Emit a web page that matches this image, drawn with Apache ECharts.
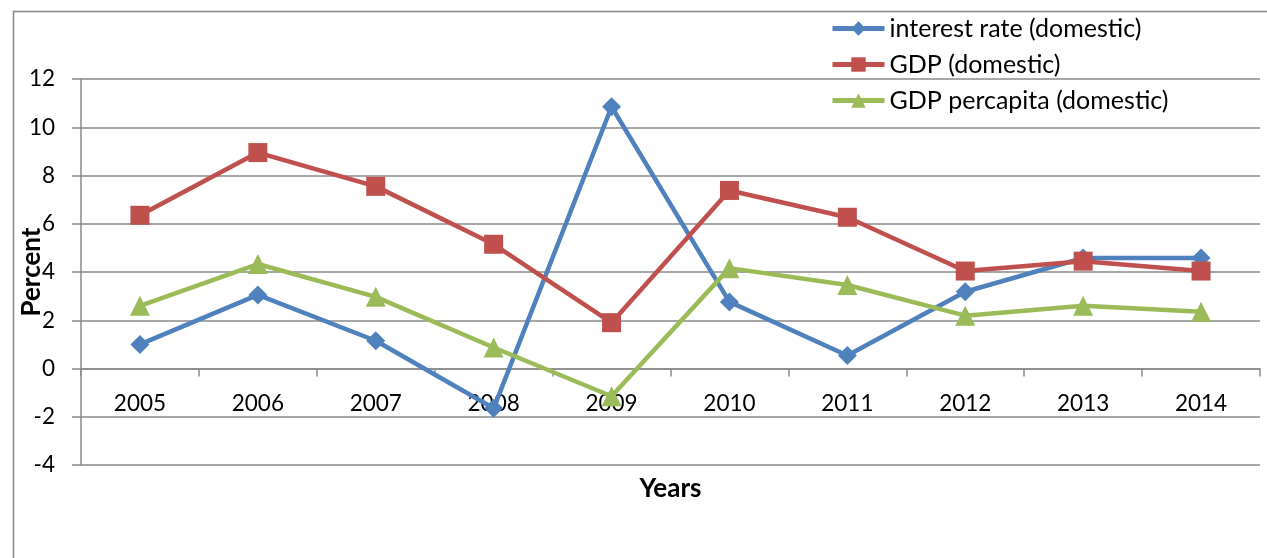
<!DOCTYPE html>
<html>
<head>
<meta charset="utf-8">
<script src="https://cdn.jsdelivr.net/npm/echarts@6/dist/echarts.min.js"></script>
<style>
html,body{margin:0;padding:0;background:#fff;}
#chart{width:1267px;height:558px;}
</style>
</head>
<body>
<div id="chart"></div>
<script>
const years = ['2005','2006','2007','2008','2009','2010','2011','2012','2013','2014'];
const interestRate = [1.0, 3.05, 1.15, -1.65, 10.85, 2.76, 0.54, 3.18, 4.58, 4.58];
const gdp = [6.35, 8.95, 7.55, 5.15, 1.9, 7.38, 6.27, 4.04, 4.45, 4.04];
const gdpPerCapita = [2.6, 4.33, 2.97, 0.87, -1.15, 4.16, 3.46, 2.19, 2.6, 2.35];
const seriesNames = ['interest rate (domestic)', 'GDP (domestic)', 'GDP percapita (domestic)'];
const yMin = -4, yMax = 12, yStep = 2;

const font = 'Lato, "Open Sans", sans-serif';
const gridTop = 79, gridBottom = 93, H = 558;
const plotH = H - gridTop - gridBottom;
const zeroOffset = -plotH * (0 - yMin) / (yMax - yMin);

const chart = echarts.init(document.getElementById('chart'));
chart.setOption({
  animation: false,
  backgroundColor: '#fff',
  graphic: [{
    type: 'rect', left: 11, top: 9,
    shape: { width: 1300, height: 600 },
    style: { fill: 'none', stroke: '#868686', lineWidth: 1.5 },
    silent: true
  }],
  grid: { left: 81, right: 7, top: gridTop, bottom: gridBottom, outerBoundsMode: 'none', containLabel: false },
  legend: {
    orient: 'vertical', left: 825, top: 11, itemGap: 11,
    itemWidth: 52, itemHeight: 18,
    lineStyle: { width: 5 },
    textStyle: { fontFamily: font, fontSize: 25, color: '#000' },
    data: seriesNames
  },
  xAxis: {
    type: 'category', data: years,
    offset: zeroOffset,
    name: 'Years', nameLocation: 'middle', nameGap: 107,
    nameMoveOverlap: false,
    nameTextStyle: { fontFamily: font, fontSize: 26, fontWeight: 'bold', color: '#000' },
    axisLine: { onZero: false, lineStyle: { color: '#8a8a8a', width: 1.5 } },
    axisTick: { show: true, length: 8, lineStyle: { color: '#8a8a8a', width: 1.5 } },
    axisLabel: { fontFamily: font, fontSize: 22.5, color: '#000', margin: 24 }
  },
  yAxis: {
    type: 'value', min: yMin, max: yMax, interval: yStep,
    name: 'Percent', nameLocation: 'middle', nameGap: 36,
    nameMoveOverlap: false,
    nameTextStyle: { fontFamily: font, fontSize: 26, fontWeight: 'bold', color: '#000' },
    axisLine: { show: true, lineStyle: { color: '#8a8a8a', width: 1.5 } },
    axisTick: { show: true, length: 9, lineStyle: { color: '#8a8a8a', width: 1.5 } },
    axisLabel: { fontFamily: font, fontSize: 22.5, color: '#000', margin: 26 },
    splitLine: { lineStyle: { color: '#8a8a8a', width: 1.5 } }
  },
  series: [
    { name: seriesNames[0], type: 'line', data: interestRate, color: '#4F81BD',
      symbol: 'diamond', symbolSize: 19, lineStyle: { width: 4.5 } },
    { name: seriesNames[1], type: 'line', data: gdp, color: '#C0504D',
      symbol: 'rect', symbolSize: 19, lineStyle: { width: 4.5 } },
    { name: seriesNames[2], type: 'line', data: gdpPerCapita, color: '#9BBB59',
      symbol: 'triangle', symbolSize: 20, lineStyle: { width: 4.5 } }
  ]
});
</script>
</body>
</html>
